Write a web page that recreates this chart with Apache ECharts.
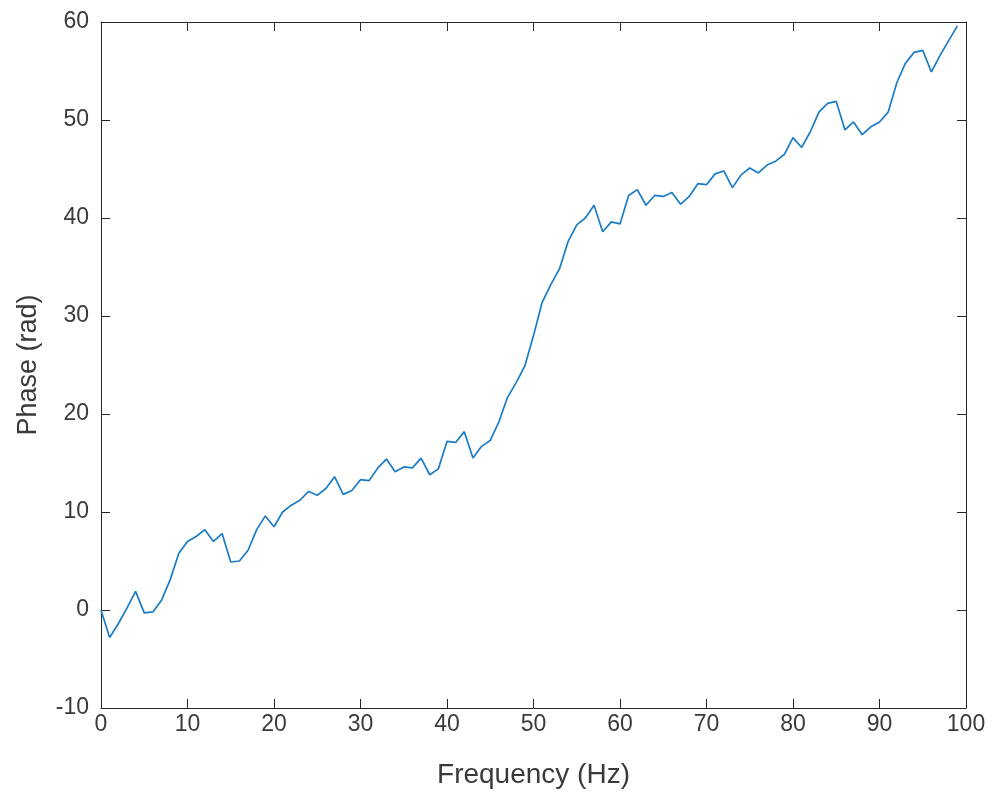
<!DOCTYPE html>
<html>
<head>
<meta charset="utf-8">
<script src="https://cdn.jsdelivr.net/npm/echarts@6/dist/echarts.min.js"></script>
<style>html,body{margin:0;padding:0;background:#fff}#c{width:995px;height:796px}</style>
</head>
<body>
<div id="c"></div>
<script>
const frequency = [0,1,2,3,4,5,6,7,8,9,10,11,12,13,14,15,16,17,18,19,20,21,22,23,24,25,26,27,28,29,30,31,32,33,34,35,36,37,38,39,40,41,42,43,44,45,46,47,48,49,50,51,52,53,54,55,56,57,58,59,60,61,62,63,64,65,66,67,68,69,70,71,72,73,74,75,76,77,78,79,80,81,82,83,84,85,86,87,88,89,90,91,92,93,94,95,96,97,98,99];
const phase = [
  0.0, -2.8, -1.4, 0.2, 1.9, -0.3, -0.2, 1.0, 3.1, 5.8,
  7.0, 7.5, 8.2, 7.0, 7.8, 4.9, 5.0, 6.1, 8.2, 9.6,
  8.5, 10.0, 10.7, 11.2, 12.1, 11.7, 12.4, 13.6, 11.8, 12.2,
  13.3, 13.2, 14.5, 15.4, 14.1, 14.6, 14.5, 15.5, 13.8, 14.4,
  17.2, 17.1, 18.2, 15.5, 16.7, 17.3, 19.2, 21.7, 23.2, 24.9,
  28.0, 31.4, 33.2, 34.8, 37.6, 39.3, 40.0, 41.3, 38.6, 39.6,
  39.4, 42.3, 42.9, 41.3, 42.3, 42.2, 42.6, 41.4, 42.2, 43.5,
  43.4, 44.5, 44.8, 43.1, 44.4, 45.1, 44.6, 45.4, 45.8, 46.5,
  48.2, 47.2, 48.8, 50.8, 51.7, 51.9, 49.0, 49.8, 48.5, 49.3,
  49.8, 50.8, 53.8, 55.8, 56.9, 57.1, 54.9, 56.6, 58.1, 59.6
];
const xTicks = {min: 0, max: 100, interval: 10};
const yTicks = {min: -10, max: 60, interval: 10};

const axisCol = '#262626';
const labelCol = '#3a3a3a';
const font = '"Liberation Sans", Arial, Helvetica, sans-serif';
const chart = echarts.init(document.getElementById('c'), null, {renderer: 'canvas'});
const baseAxisLine = {show: true, onZero: false, lineStyle: {color: axisCol, width: 1}};
chart.setOption({
  animation: false,
  grid: {left: 101, top: 22, width: 865, height: 686, containLabel: false},
  xAxis: [
    {type: 'value', position: 'bottom', min: xTicks.min, max: xTicks.max, interval: xTicks.interval,
     name: 'Frequency (Hz)', nameLocation: 'middle', nameGap: 53,
     nameTextStyle: {color: labelCol, fontSize: 28, fontFamily: font},
     axisLine: baseAxisLine, axisTick: {show: true, inside: true, length: 9, lineStyle: {color: axisCol}},
     axisLabel: {color: labelCol, fontSize: 23, fontFamily: font, margin: 5},
     splitLine: {show: false}},
    {type: 'value', position: 'top', min: xTicks.min, max: xTicks.max, interval: xTicks.interval,
     axisLine: baseAxisLine, axisTick: {show: true, inside: true, length: 9, lineStyle: {color: axisCol}},
     axisLabel: {show: false}, splitLine: {show: false}}
  ],
  yAxis: [
    {type: 'value', position: 'left', min: yTicks.min, max: yTicks.max, interval: yTicks.interval,
     name: 'Phase (rad)', nameLocation: 'middle', nameGap: 59, nameRotate: 90,
     nameTextStyle: {color: labelCol, fontSize: 27, fontFamily: font},
     axisLine: baseAxisLine, axisTick: {show: true, inside: true, length: 9, lineStyle: {color: axisCol}},
     axisLabel: {color: labelCol, fontSize: 23, fontFamily: font, margin: 12},
     splitLine: {show: false}},
    {type: 'value', position: 'right', min: yTicks.min, max: yTicks.max, interval: yTicks.interval,
     axisLine: baseAxisLine, axisTick: {show: true, inside: true, length: 9, lineStyle: {color: axisCol}},
     axisLabel: {show: false}, splitLine: {show: false}}
  ],
  series: [{
    type: 'line',
    xAxisIndex: 0, yAxisIndex: 0,
    data: frequency.map((f, i) => [f, phase[i]]),
    showSymbol: false,
    smooth: false,
    lineStyle: {color: '#1a7cc6', width: 1.7},
    itemStyle: {color: '#1a7cc6'}
  }]
});
</script>
</body>
</html>
